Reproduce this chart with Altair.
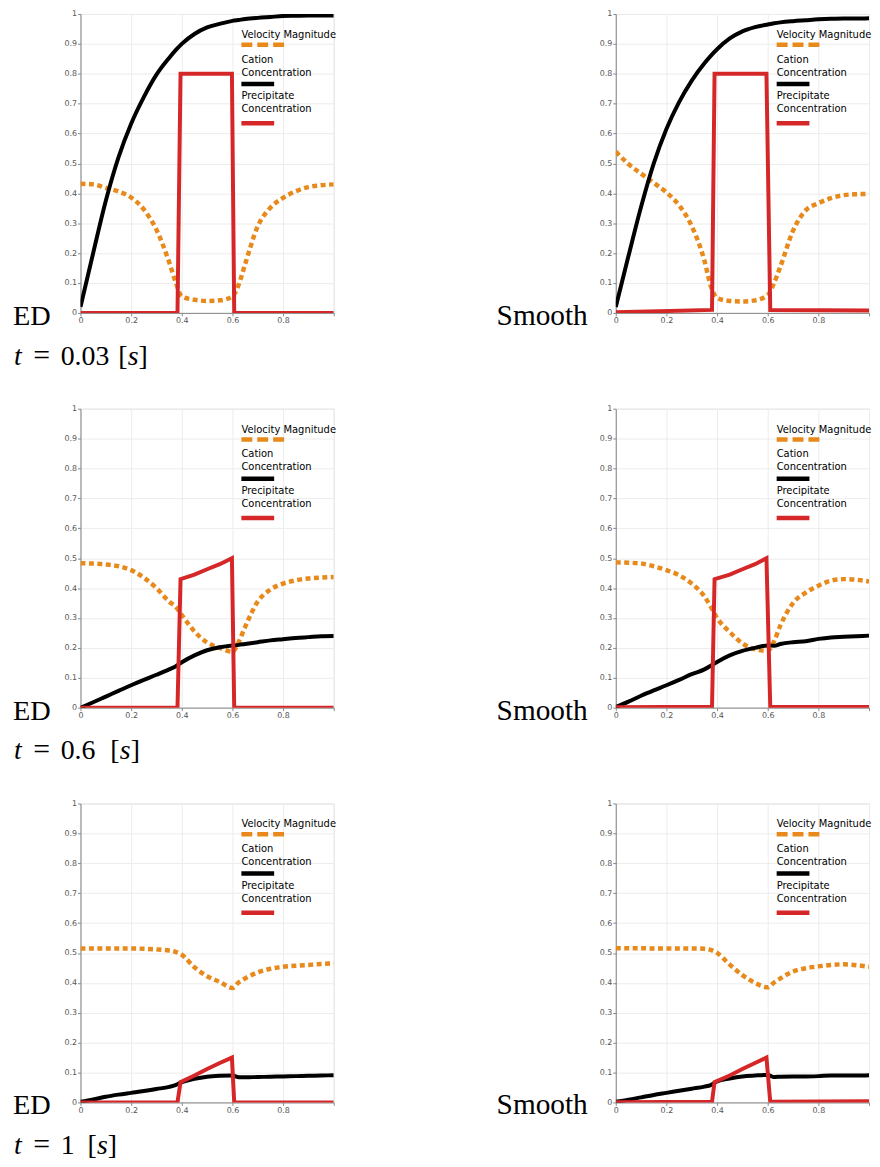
import altair as alt
import pandas as pd

# ---------------- data ----------------
X_GRID = [0, 0.05, 0.1, 0.15, 0.2, 0.25, 0.3, 0.35, 0.375, 0.4, 0.45, 0.5,
          0.55, 0.6, 0.625, 0.65, 0.7, 0.75, 0.8, 0.85, 0.9, 0.95, 1.0]

# t = 0.03 s
ED_T1_VEL = [0.432, 0.43, 0.418, 0.406, 0.386, 0.346, 0.278, 0.17, 0.105, 0.055, 0.044, 0.04,
             0.042, 0.055, 0.095, 0.163, 0.29, 0.352, 0.385, 0.407, 0.421, 0.427, 0.43]
ED_T1_CAT = [0.02, 0.2, 0.375, 0.52, 0.633, 0.722, 0.797, 0.853, 0.878, 0.90, 0.933, 0.955,
             0.967, 0.977, 0.98, 0.983, 0.987, 0.99, 0.993, 0.994, 0.995, 0.995, 0.995]
SM_T1_VEL = [0.54, 0.498, 0.466, 0.435, 0.403, 0.36, 0.29, 0.175, 0.09, 0.05, 0.04, 0.038,
             0.042, 0.06, 0.1, 0.155, 0.275, 0.343, 0.367, 0.384, 0.394, 0.397, 0.398]
SM_T1_CAT = [0.02, 0.19, 0.355, 0.5, 0.615, 0.705, 0.777, 0.835, 0.86, 0.882, 0.918, 0.942,
             0.956, 0.965, 0.969, 0.972, 0.976, 0.979, 0.982, 0.984, 0.985, 0.985, 0.986]

# t = 0.6 s
ED_T2_VEL = [0.483, 0.482, 0.479, 0.473, 0.46, 0.435, 0.40, 0.355, 0.338, 0.31, 0.255, 0.218,
             0.2, 0.187, 0.22, 0.27, 0.355, 0.395, 0.415, 0.426, 0.432, 0.435, 0.437]
ED_T2_CAT = [0.0, 0.018, 0.037, 0.056, 0.075, 0.093, 0.11, 0.128, 0.138, 0.152, 0.175, 0.192,
             0.202, 0.208, 0.21, 0.213, 0.219, 0.225, 0.229, 0.233, 0.236, 0.239, 0.24]
SM_T2_VEL = [0.486, 0.485, 0.482, 0.473, 0.46, 0.443, 0.415, 0.372, 0.338, 0.30, 0.253, 0.215,
             0.195, 0.19, 0.222, 0.275, 0.35, 0.385, 0.408, 0.425, 0.43, 0.428, 0.422]
SM_T2_CAT = [0.002, 0.02, 0.04, 0.058, 0.075, 0.093, 0.112, 0.128, 0.14, 0.153, 0.175, 0.19,
             0.2, 0.208, 0.207, 0.213, 0.219, 0.222, 0.23, 0.235, 0.237, 0.239, 0.241]

# t = 1 s
ED_T3_VEL = [0.515, 0.515, 0.515, 0.515, 0.515, 0.514, 0.512, 0.508, 0.504, 0.494, 0.452, 0.422,
             0.403, 0.383, 0.402, 0.415, 0.435, 0.447, 0.454, 0.457, 0.46, 0.463, 0.465]
ED_T3_CAT = [0.002, 0.01, 0.019, 0.026, 0.032, 0.038, 0.045, 0.052, 0.058, 0.068, 0.079, 0.086,
             0.089, 0.09, 0.084, 0.084, 0.085, 0.086, 0.087, 0.088, 0.089, 0.09, 0.091]
SM_T3_VEL = [0.516, 0.516, 0.516, 0.515, 0.515, 0.515, 0.515, 0.514, 0.51, 0.5, 0.461, 0.426,
             0.4, 0.385, 0.401, 0.415, 0.438, 0.449, 0.455, 0.46, 0.462, 0.459, 0.454]
SM_T3_CAT = [0.002, 0.009, 0.017, 0.025, 0.032, 0.039, 0.046, 0.053, 0.058, 0.07, 0.08, 0.087,
             0.09, 0.092, 0.085, 0.086, 0.087, 0.087, 0.088, 0.09, 0.09, 0.09, 0.091]

# precipitate concentration
RED_X_ED = [0, 0.383, 0.395, 0.45, 0.5, 0.55, 0.598, 0.607, 1.0]
RED_X_SM = [0, 0.38, 0.39, 0.45, 0.5, 0.55, 0.595, 0.61, 1.0]
ED_T1_PREC = [0, 0, 0.8, 0.8, 0.8, 0.8, 0.8, 0, 0]
SM_T1_PREC = [0.002, 0.01, 0.8, 0.8, 0.8, 0.8, 0.8, 0.01, 0.008]
ED_T2_PREC = [0, 0, 0.43, 0.445, 0.463, 0.48, 0.5, 0, 0]
SM_T2_PREC = [0.001, 0.003, 0.43, 0.445, 0.463, 0.48, 0.5, 0.003, 0.002]
ED_T3_PREC = [0, 0, 0.068, 0.09, 0.112, 0.132, 0.15, 0, 0]
SM_T3_PREC = [0.001, 0.002, 0.068, 0.09, 0.112, 0.132, 0.15, 0.002, 0.004]

X_TICKS = [0, 0.2, 0.4, 0.6, 0.8, 1.0]
Y_TICKS = [0, 0.1, 0.2, 0.3, 0.4, 0.5, 0.6, 0.7, 0.8, 0.9, 1.0]

METHODS = ["ED", "Smooth"]
TIMES = ["0.03", "0.6", "1"]
LEGEND_LINES = ["Velocity Magnitude", "Cation", "Concentration", "Precipitate", "Concentration"]

ORANGE = "#e8891c"
RED = "#d62728"
W, H = 255, 301
SANS = "DejaVu Sans"
SERIF = "Liberation Serif"


def text_layer(s, x, y, size=10, font=SANS, style="normal", align="left", color="black"):
    return alt.Chart(pd.DataFrame({"t": [s]})).mark_text(
        font=font, fontSize=size, fontStyle=style, align=align,
        baseline="alphabetic", color=color
    ).encode(text="t:N", x=alt.value(x), y=alt.value(y))


def rule_layer(color, x1, x2, y, dash=None):
    kw = dict(color=color, strokeWidth=4.5, strokeCap="butt")
    if dash:
        kw["strokeDash"] = dash
    return alt.Chart(pd.DataFrame({"k": [0]})).mark_rule(**kw).encode(
        x=alt.value(x1), x2=alt.value(x2), y=alt.value(y))


def axes():
    xaxis = alt.Axis(values=X_TICKS, grid=True, gridColor="#ececec",
                     labelExpr="datum.value == 1 ? '' : format(datum.value, '.1~f')",
                     labelFlush=False, labelFontSize=8, labelColor="#555", labelFont=SANS,
                     tickSize=3, tickColor="#888", domainColor="#888", labelPadding=1, title=None)
    yaxis = alt.Axis(values=Y_TICKS, grid=True, gridColor="#ececec",
                     labelExpr="format(datum.value, '.1~f')",
                     labelFlush=False, labelFontSize=8, labelColor="#555", labelFont=SANS,
                     tickSize=3, tickColor="#888", domainColor="#888", labelPadding=1, title=None)
    return xaxis, yaxis


def panel(vel, cat, red_x, red, method, tlabel, bracket_x):
    df = pd.DataFrame({"x": X_GRID, "vel": vel, "cat": cat})
    dfr = pd.DataFrame({"x": red_x, "prec": red})
    xsc = alt.Scale(domain=[0, 1], nice=False)
    ysc = alt.Scale(domain=[0, 1], nice=False)
    xa, ya = axes()
    v = alt.Chart(df).mark_line(color=ORANGE, strokeWidth=4.5, strokeDash=[5, 3.5],
                                clip=True, interpolate="monotone").encode(
        x=alt.X("x:Q", scale=xsc, axis=xa), y=alt.Y("vel:Q", scale=ysc, axis=ya))
    c = alt.Chart(df).mark_line(color="black", strokeWidth=4, clip=True,
                                interpolate="monotone").encode(
        x=alt.X("x:Q", scale=xsc, axis=xa), y=alt.Y("cat:Q", scale=ysc, axis=ya))
    r = alt.Chart(dfr).mark_line(color=RED, strokeWidth=4, clip=True).encode(
        x=alt.X("x:Q", scale=xsc, axis=xa), y=alt.Y("prec:Q", scale=ysc, axis=ya))
    layers = [v, c, r]
    # in-plot legend
    lx = 162
    layers += [
        text_layer(LEGEND_LINES[0], lx, 24),
        rule_layer(ORANGE, lx, lx + 45, 31, dash=[11, 5]),
        text_layer(LEGEND_LINES[1], lx, 49),
        text_layer(LEGEND_LINES[2], lx, 62),
        rule_layer("black", lx, lx + 33, 70.5),
        text_layer(LEGEND_LINES[3], lx, 86),
        text_layer(LEGEND_LINES[4], lx, 99),
        rule_layer(RED, lx, lx + 33, 110),
    ]
    # method label
    if method == "ED":
        layers.append(text_layer(method, -68, 313, size=28.5, font=SERIF))
    else:
        layers.append(text_layer(method, -120, 313, size=29.5, font=SERIF))
    if tlabel is not None:
        by = 353
        layers += [
            text_layer("t", -67, by, size=28, font=SERIF, style="italic"),
            text_layer("=", -39, by, size=30, font=SERIF, align="center"),
            text_layer(tlabel, -20, by, size=28, font=SERIF),
            text_layer("[", bracket_x, by, size=28, font=SERIF),
            text_layer("s", bracket_x + 9.5, by, size=28, font=SERIF, style="italic"),
            text_layer("]", bracket_x + 20.5, by, size=28, font=SERIF),
        ]
    return alt.layer(*layers).resolve_axis(x="shared", y="shared").properties(width=W, height=H)


row1 = alt.hconcat(
    panel(ED_T1_VEL, ED_T1_CAT, RED_X_ED, ED_T1_PREC, METHODS[0], TIMES[0], 38),
    panel(SM_T1_VEL, SM_T1_CAT, RED_X_SM, SM_T1_PREC, METHODS[1], None, 0),
    spacing=160)
row2 = alt.hconcat(
    panel(ED_T2_VEL, ED_T2_CAT, RED_X_ED, ED_T2_PREC, METHODS[0], TIMES[1], 30),
    panel(SM_T2_VEL, SM_T2_CAT, RED_X_SM, SM_T2_PREC, METHODS[1], None, 0),
    spacing=160)
row3 = alt.hconcat(
    panel(ED_T3_VEL, ED_T3_CAT, RED_X_ED, ED_T3_PREC, METHODS[0], TIMES[2], 7),
    panel(SM_T3_VEL, SM_T3_CAT, RED_X_SM, SM_T3_PREC, METHODS[1], None, 0),
    spacing=160)

chart = alt.vconcat(row1, row2, row3, spacing=32.5).properties(
    padding={"left": 4, "top": -3, "right": 0, "bottom": 0}
).configure_view(stroke=None).configure(background="white")

chart.save("out.html", embed_options={"renderer": "svg", "actions": False})
